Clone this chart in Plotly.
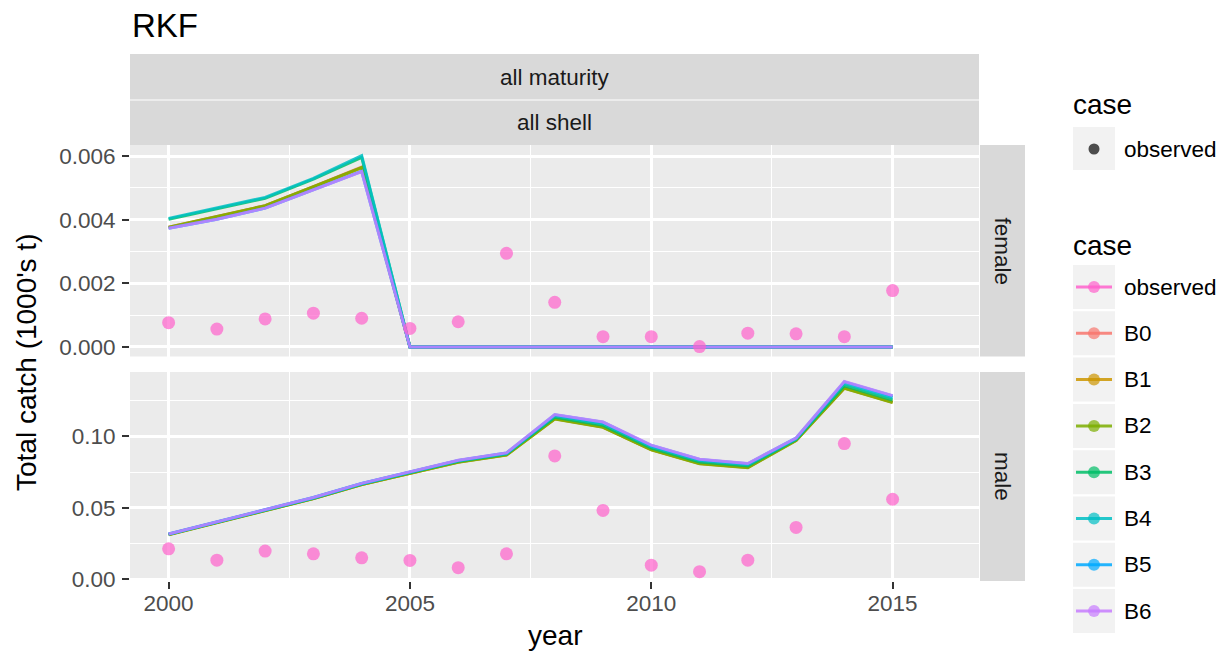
import plotly.graph_objects as go

W, H = 1228, 658

years = list(range(2000, 2016))
cases = ["B0", "B1", "B2", "B3", "B4", "B5", "B6"]
case_colors = {"observed": "#FF61CC", "B0": "#F8766D", "B1": "#CD9600", "B2": "#7CAE00",
               "B3": "#00BE67", "B4": "#00BFC4", "B5": "#00A9FF", "B6": "#C77CFF"}
legend_order = ["observed", "B0", "B1", "B2", "B3", "B4", "B5", "B6"]

# female model predictions (1000's t)
female_B0 = [0.00376, 0.00409, 0.00444, 0.00504, 0.00565, 0, 0, 0, 0, 0, 0, 0, 0, 0, 0, 0]
female_B1 = [0.00375, 0.00408, 0.00443, 0.00503, 0.00563, 0, 0, 0, 0, 0, 0, 0, 0, 0, 0, 0]
female_B2 = [0.00376, 0.00409, 0.00444, 0.00504, 0.00564, 0, 0, 0, 0, 0, 0, 0, 0, 0, 0, 0]
female_B3 = [0.00401, 0.00433, 0.00467, 0.00527, 0.00596, 0, 0, 0, 0, 0, 0, 0, 0, 0, 0, 0]
female_B4 = [0.00404, 0.00436, 0.00470, 0.00530, 0.00601, 0, 0, 0, 0, 0, 0, 0, 0, 0, 0, 0]
female_B5 = [0.00373, 0.00401, 0.00436, 0.00493, 0.00552, 0, 0, 0, 0, 0, 0, 0, 0, 0, 0, 0]
female_B6 = [0.00373, 0.00401, 0.00436, 0.00493, 0.00551, 0, 0, 0, 0, 0, 0, 0, 0, 0, 0, 0]
female_obs = [0.00076, 0.00056, 0.00088, 0.00106, 0.00090, 0.00058, 0.00079, 0.00294,
              0.00140, 0.00032, 0.00032, 0.00001, 0.00043, 0.00041, 0.00032, 0.00177]

# male model predictions (1000's t)
male_B0 = [0.0313, 0.0397, 0.0481, 0.0565, 0.0663, 0.0744, 0.0821, 0.0871, 0.1124, 0.1066, 0.0908, 0.0811, 0.0784, 0.0972, 0.1339, 0.1239]
male_B1 = [0.0313, 0.0397, 0.0481, 0.0565, 0.0663, 0.0743, 0.0820, 0.0870, 0.1123, 0.1065, 0.0907, 0.0810, 0.0783, 0.0972, 0.1338, 0.1238]
male_B2 = [0.0312, 0.0396, 0.0480, 0.0564, 0.0662, 0.0742, 0.0819, 0.0869, 0.1121, 0.1063, 0.0905, 0.0808, 0.0781, 0.0971, 0.1336, 0.1236]
male_B3 = [0.0314, 0.0399, 0.0483, 0.0567, 0.0666, 0.0746, 0.0825, 0.0876, 0.1133, 0.1077, 0.0918, 0.0820, 0.0792, 0.0978, 0.1354, 0.1254]
male_B4 = [0.0316, 0.0400, 0.0484, 0.0570, 0.0668, 0.0749, 0.0829, 0.0880, 0.1143, 0.1088, 0.0928, 0.0830, 0.0801, 0.0983, 0.1369, 0.1270]
male_B5 = [0.0317, 0.0401, 0.0486, 0.0572, 0.0670, 0.0751, 0.0832, 0.0883, 0.1151, 0.1098, 0.0936, 0.0838, 0.0808, 0.0987, 0.1381, 0.1282]
male_B6 = [0.0317, 0.0402, 0.0486, 0.0572, 0.0671, 0.0752, 0.0833, 0.0884, 0.1153, 0.1100, 0.0938, 0.0840, 0.0810, 0.0988, 0.1384, 0.1285]
male_obs = [0.0213, 0.0134, 0.0197, 0.0178, 0.0150, 0.0132, 0.0081, 0.0178,
            0.0863, 0.0482, 0.0099, 0.0053, 0.0134, 0.0363, 0.0949, 0.0560]

female_model = [female_B0, female_B1, female_B2, female_B3, female_B4, female_B5, female_B6]
male_model = [male_B0, male_B1, male_B2, male_B3, male_B4, male_B5, male_B6]

FONT = "Liberation Sans, Arial, sans-serif"
SMALL = 22.5
MED = 28
BIG = 33


def px(x):
    return x / W


def py(y):
    return 1 - y / H


def rgba(hexc, a):
    hexc = hexc.lstrip("#")
    r, g, b = int(hexc[0:2], 16), int(hexc[2:4], 16), int(hexc[4:6], 16)
    return f"rgba({r},{g},{b},{a})"


fig = go.Figure()

for ax_x, ax_y, model, obs in [("x", "y", female_model, female_obs), ("x2", "y2", male_model, male_obs)]:
    for name, vals in zip(cases, model):
        fig.add_trace(go.Scatter(x=years, y=vals, mode="lines", name=name, xaxis=ax_x, yaxis=ax_y,
                                 line=dict(color=rgba(case_colors[name], 0.85), width=3),
                                 showlegend=False))
    fig.add_trace(go.Scatter(x=years, y=obs, mode="markers", name="observed", xaxis=ax_x, yaxis=ax_y,
                             marker=dict(color=rgba(case_colors["observed"], 0.7), size=13, line=dict(width=0)),
                             showlegend=False))

x_dom = [px(130), px(979)]
x_rng = [1999.2, 2016.79]
common_x = dict(domain=x_dom, range=x_rng, dtick=5, tick0=2000, showgrid=True, gridcolor="white",
                gridwidth=2.6, zeroline=False, showline=False, automargin=False,
                minor=dict(dtick=2.5, tick0=2000, showgrid=True, gridcolor="white", gridwidth=1.3),
                tickfont=dict(family=FONT, size=SMALL, color="#4D4D4D"))
common_y = dict(showgrid=True, gridcolor="white", gridwidth=2.6, zeroline=False, showline=False,
                ticks="outside", ticklen=7, tickwidth=2, tickcolor="#333333", automargin=False,
                ticklabelstandoff=2,
                tickfont=dict(family=FONT, size=SMALL, color="#4D4D4D"))

fig.update_layout(
    width=W, height=H, autosize=False,
    margin=dict(l=0, r=0, t=0, b=0, pad=0),
    paper_bgcolor="white", plot_bgcolor="#EBEBEB",
    showlegend=False,
    xaxis=dict(**common_x, anchor="y", showticklabels=False, ticks=""),
    xaxis2=dict(**common_x, anchor="y2", showticklabels=True, ticks="outside", ticklen=7,
                tickwidth=2, tickcolor="#333333", ticklabelstandoff=-5),
    yaxis=dict(**common_y, domain=[py(356.5), py(145)], range=[-0.000302, 0.006346], dtick=0.002,
               tick0=0, tickformat=".3f", anchor="x",
               minor=dict(dtick=0.001, tick0=0, showgrid=True, gridcolor="white", gridwidth=1.3)),
    yaxis2=dict(**common_y, domain=[py(581), py(372)], range=[-0.0012, 0.1450], dtick=0.05,
                tick0=0, tickformat=".2f", anchor="x2",
                minor=dict(dtick=0.025, tick0=0, showgrid=True, gridcolor="white", gridwidth=1.3)),
)

shapes = []
annotations = []


def rect(x0, y0, x1, y1, fill):
    shapes.append(dict(type="rect", xref="paper", yref="paper", x0=px(x0), x1=px(x1),
                       y0=py(y1), y1=py(y0), fillcolor=fill, line=dict(width=0), layer="below"))


def text(x, y, s, size, color="#1A1A1A", xanchor="center", angle=0):
    annotations.append(dict(xref="paper", yref="paper", x=px(x), y=py(y), text=s, showarrow=False,
                            xanchor=xanchor, yanchor="middle", textangle=angle,
                            font=dict(family=FONT, size=size, color=color)))


# strips
rect(130, 54, 979, 99.5, "#D9D9D9")
rect(130, 100.5, 979, 145, "#D9D9D9")
rect(980, 145, 1025, 356.5, "#D9D9D9")
rect(980, 372, 1025, 581, "#D9D9D9")
text(554.5, 77, "all maturity", SMALL)
text(554.5, 122.5, "all shell", SMALL)
text(1002.5, 251, "female", SMALL, angle=90)
text(1002.5, 476.5, "male", SMALL, angle=90)

# titles
text(130, 25, "RKF", BIG, color="black", xanchor="left")
text(26, 363, "Total catch (1000's t)", MED, color="black", angle=-90)
text(554.5, 635, "year", MED, color="black")

# legend 1
text(1071, 105, "case", MED, color="black", xanchor="left")
rect(1073, 127, 1115, 170, "#F2F2F2")
shapes.append(dict(type="circle", xref="paper", yref="paper", xsizemode="pixel", ysizemode="pixel",
                   xanchor=px(1094), yanchor=py(149), x0=-5.5, x1=5.5, y0=-5.5, y1=5.5,
                   fillcolor="#4D4D4D", line=dict(width=0)))
text(1122, 149, "observed", SMALL, color="black", xanchor="left")

# legend 2
text(1071, 245, "case", MED, color="black", xanchor="left")
for i, name in enumerate(legend_order):
    c = 287 + 46.3 * i
    rect(1073, c - 22, 1115, c + 22, "#F2F2F2")
    col = case_colors[name]
    shapes.append(dict(type="line", xref="paper", yref="paper", x0=px(1076), x1=px(1112),
                       y0=py(c), y1=py(c), line=dict(color=rgba(col, 0.85), width=3)))
    shapes.append(dict(type="circle", xref="paper", yref="paper", xsizemode="pixel", ysizemode="pixel",
                       xanchor=px(1094), yanchor=py(c), x0=-6, x1=6, y0=-6, y1=6,
                       fillcolor=rgba(col, 0.7), line=dict(width=0)))
    text(1122, c, name, SMALL, color="black", xanchor="left")

fig.update_layout(shapes=shapes, annotations=annotations)

fig.write_html("out.html", config={"displayModeBar": False},
               post_script="document.body.style.margin='0';document.body.style.overflow='hidden';")
